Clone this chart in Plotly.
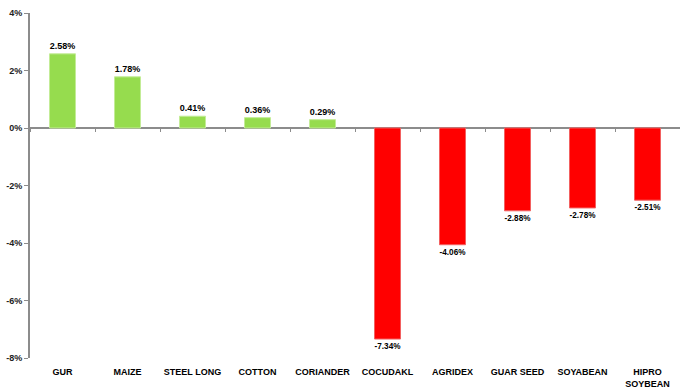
import plotly.graph_objects as go

categories = ["GUR", "MAIZE", "STEEL LONG", "COTTON", "CORIANDER",
              "COCUDAKL", "AGRIDEX", "GUAR SEED", "SOYABEAN", "HIPRO<br>SOYBEAN<br>MEAL"]
changes = [2.58, 1.78, 0.41, 0.36, 0.29, -7.34, -4.06, -2.88, -2.78, -2.51]
y_ticks = [-8, -6, -4, -2, 0, 2, 4]

GREEN = "#96dc4e"
GREEN_EDGE = "#c3ec97"
RED = "#ff0000"
RED_EDGE = "#f26060"

fill = [GREEN if v >= 0 else RED for v in changes]
edge = [GREEN_EDGE if v >= 0 else RED_EDGE for v in changes]
labels = [f"{v:.2f}%" for v in changes]

y_min, y_max = -8, 4
font_family = "Liberation Sans, Arial, sans-serif"

fig = go.Figure()
fig.add_trace(go.Bar(
    x=categories, y=changes, width=0.4,
    marker=dict(color=fill, line=dict(color=edge, width=1)),
    text=labels, textposition="outside", cliponaxis=False,
    textfont=dict(family=font_family, size=9, color="#000000", weight="bold"),
    hoverinfo="skip",
))
# invisible trace to carry the tick marks on the zero line
fig.add_trace(go.Bar(x=categories, y=[None] * len(categories), xaxis="x2",
                     showlegend=False, hoverinfo="skip"))

fig.update_layout(
    width=680, height=390,
    margin=dict(l=30, r=0, t=13, b=32, autoexpand=False),
    paper_bgcolor="white", plot_bgcolor="white",
    showlegend=False, bargap=0.6,
    font=dict(family=font_family, color="#000000"),
    xaxis=dict(
        showline=False, ticks="", showgrid=False, zeroline=False,
        tickfont=dict(family=font_family, size=9, color="#000000", weight="bold"),
        ticklabelstandoff=7, automargin=False,
    ),
    xaxis2=dict(
        overlaying="x", anchor="free",
        position=(0 - y_min) / (y_max - y_min),
        showline=False, showticklabels=False, showgrid=False, zeroline=False,
        ticks="outside", ticklen=3, tickwidth=1, tickcolor="#8c8c8c",
        tickson="boundaries", matches="x",
    ),
    yaxis=dict(
        range=[y_min, y_max], tickvals=y_ticks,
        ticktext=[f"{t}%" for t in y_ticks],
        showgrid=False, zeroline=True, zerolinecolor="#8c8c8c", zerolinewidth=2,
        showline=True, linecolor="#8c8c8c", linewidth=2,
        ticks="outside", ticklen=4, tickcolor="#8c8c8c", automargin=False,
        tickfont=dict(family=font_family, size=9, color="#222222", weight="bold"),
    ),
)

fig.write_html("out.html")
